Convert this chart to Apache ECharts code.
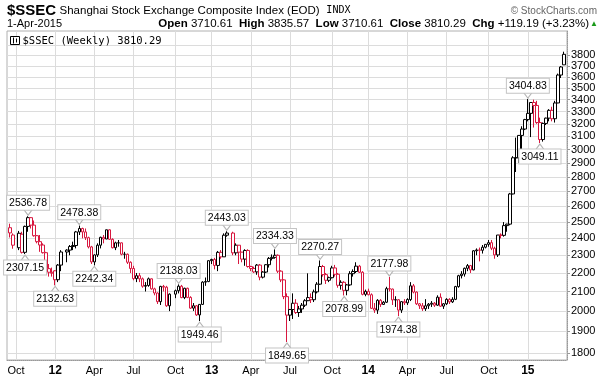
<!DOCTYPE html>
<html><head><meta charset="utf-8">
<script src="https://cdn.jsdelivr.net/npm/echarts@6/dist/echarts.min.js"></script>
<style>html,body{margin:0;padding:0;background:#fff}#c{width:603px;height:385px}</style>
</head><body><div id="c"></div>
<script>
// ---- data ----
const symbolName = '$SSEC';
const indexName = 'Shanghai Stock Exchange Composite Index (EOD)';
const exchange = 'INDX';
const lastDateText = '1-Apr-2015';
const firstWeek = '2011-09-19';           // Monday of first weekly bar
const weekCount = 185;                    // calendar weeks shown
// weekly OHLC (null = market closed whole week)
const opens = [2465,2420,null,2344,2425,2317,2473,2528,2481,2416,2380,2360,2315,2224,2204,2212,2163,2244,null,2319,
2330,2351,2357,2439,2460,2439,2404,2349,2262,2302,2359,2406,2396,2452,2394,2344,2373,2373,2306,2306,
2260,2225,2169,2185,2168,2128,2132,2168,2114,2092,2047,2127,2123,2026,null,2086,2104,2128,2068,2117,
2069,2014,2026,1980,2033,2150,2153,2269,2276,2242,2317,2291,2419,null,2432,2314,2359,2318,2278,2328,
2236,2225,2206,2244,2177,2205,2246,2282,2288,2300,2210,2162,2073,1979,2007,2039,1992,2010,2029,2052,
2068,2057,2098,2139,2236,2191,2160,2174,2228,2193,2133,2149,2106,2135,2196,2208,2238,2204,2085,2101,
2083,2013,2004,2054,2033,2044,2115,2113,2056,2057,2004,2047,2041,2058,2130,2097,2036,2026,2011,2026,
2034,2039,2029,2070,2024,2036,2059,2046,2059,2126,2185,2194,2226,2241,2217,2326,2331,2329,2347,2364,
2374,2341,2302,2420,2418,2478,2487,2683,2938,2938,3108,3158,3234,3285,3376,3351,3210,3076,3203,3246,
3310,3241,3372,3617,3710.61];
const highs = [2490,2430,null,2445,2440,2478,2536.78,2530,2510,2420,2420,2370,2320,2250,2230,2215,2250,2330,null,2335,
2360,2380,2445,2478.38,2465,2460,2410,2355,2305,2370,2410,2420,2453,2455,2400,2380,2390,2375,2320,2310,
2265,2240,2200,2200,2175,2150,2175,2170,2120,2095,2130,2135,2130,2090,null,2110,2138.03,2135,2120,2120,
2075,2040,2030,2035,2155,2175,2270,2280,2285,2325,2330,2430,2443.03,null,2440,2370,2360,2320,2335,2335,
2240,2235,2250,2250,2210,2250,2290,2305,2334.33,2305,2215,2165,2090,2010,2090,2060,2025,2040,2060,2198,
2090,2110,2150,2270.27,2245,2200,2180,2240,2245,2200,2160,2155,2140,2210,2220,2260,2245,2210,2110,2115,
2090,2040,2060,2060,2050,2125,2177.98,2115,2075,2060,2050,2060,2065,2150,2140,2100,2040,2040,2060,2040,
2050,2045,2080,2090,2040,2065,2065,2070,2130,2190,2210,2230,2250,2245,2330,2340,2345,2360,2365,2390,
2390,2350,2420,2430,2500,2490,2690,2950,3091,3110,3180,3240,3404.83,3380,3400,3390,3250,3210,3250,3320,
3340,3390,3630,3700,3835.57];
const lows = [2405,2338,null,2330,2310,2307.15,2440,2460,2410,2370,2320,2310,2220,2180,2180,2132.63,2150,2210,null,2260,
2300,2330,2340,2420,2400,2390,2340,2250,2242.34,2290,2340,2370,2395,2390,2340,2330,2350,2300,2280,2250,
2200,2160,2150,2150,2120,2100,2125,2110,2080,2035,2030,2100,2020,1999,null,2065,2090,2065,2060,2065,
2010,2000,1975,1949.46,2030,2130,2150,2250,2220,2210,2280,2290,2410,null,2300,2300,2250,2260,2240,2230,
2210,2200,2190,2160,2170,2200,2230,2270,2280,2200,2150,2060,1849.65,1950,1960,1985,1970,1990,2020,2050,
2040,2045,2090,2135,2180,2140,2150,2170,2180,2120,2110,2078.99,2080,2130,2180,2200,2200,2080,2075,2080,
2010,1990,1985,2020,2030,2040,2100,2030,2020,1974.38,1990,2030,2030,2050,2090,2030,2010,2000,2000,2010,
2020,2020,2025,2020,2010,2030,2035,2040,2055,2120,2170,2180,2210,2200,2215,2300,2265,2310,2340,2350,
2330,2280,2290,2400,2410,2440,2480,2680,2835,2900,2940,3150,3220,3095,3170,3200,3049.11,3060,3190,3220,
3220,3210,3370,3590,3710.61];
const closes = [2433,2359,null,2431,2317,2473,2528,2481,2416,2380,2360,2315,2224,2204,2199,2163,2244,2319,null,2330,
2351,2357,2439,2460,2439,2404,2349,2262,2302,2359,2406,2396,2452,2394,2344,2373,2373,2306,2306,2260,
2225,2169,2185,2168,2128,2132,2168,2114,2092,2047,2127,2123,2026,2086,null,2104,2128,2068,2117,2069,
2014,2026,1980,2033,2150,2153,2269,2276,2242,2317,2291,2419,2432,null,2314,2359,2318,2278,2328,2236,
2225,2206,2244,2177,2205,2246,2282,2288,2300,2210,2162,2073,1979,2007,2039,1992,2010,2029,2052,2068,
2057,2098,2139,2236,2191,2160,2174,2228,2193,2133,2149,2106,2135,2196,2208,2238,2204,2085,2101,2083,
2013,2004,2054,2033,2044,2115,2113,2056,2057,2004,2047,2041,2058,2130,2097,2036,2026,2011,2026,2034,
2039,2029,2070,2024,2036,2059,2046,2059,2126,2185,2194,2226,2241,2217,2326,2331,2329,2347,2364,2374,
2341,2302,2420,2418,2478,2487,2683,2938,2938,3108,3158,3234,3285,3376,3351,3210,3076,3203,3246,3310,
3241,3372,3617,3691.10,3810.29];
// x-axis tick labels: [week (Monday), label, isYear]
const tickLabels = [['2011-10-03','Oct',0],['2012-01-02','12',1],['2012-04-02','Apr',0],['2012-07-02','Jul',0],
['2012-10-08','Oct',0],['2012-12-31','13',1],['2013-04-01','Apr',0],['2013-07-01','Jul',0],['2013-10-07','Oct',0],
['2013-12-30','14',1],['2014-03-31','Apr',0],['2014-06-30','Jul',0],['2014-10-06','Oct',0],['2015-01-05','15',1]];
const yTicks = [1800,1900,2000,2100,2200,2300,2400,2500,2600,2700,2800,2900,3000,3100,3200,3300,3400,3500,3600,3700,3800,3900];
// annotated highs / lows: [week, value, side]
const callouts = [['2011-10-31',2536.78,'top'],['2011-10-24',2307.15,'bottom'],['2012-01-02',2132.63,'bottom'],
['2012-02-27',2478.38,'top'],['2012-04-02',2242.34,'bottom'],['2012-10-15',2138.03,'top'],['2012-12-03',1949.46,'bottom'],
['2013-02-04',2443.03,'top'],['2013-05-27',2334.33,'top'],['2013-06-24',1849.65,'bottom'],['2013-09-09',2270.27,'top'],
['2013-11-04',2078.99,'bottom'],['2014-02-17',2177.98,'top'],['2014-03-10',1974.38,'bottom'],
['2015-01-05',3404.83,'top'],['2015-02-02',3049.11,'bottom']];

// ---- build ----
const RED = '#d8173f', BLK = '#000';
const FONT = 'Liberation Sans, Arial, sans-serif';
function fmt(d){return d.toISOString().slice(0,10);}
const weeks = [];
{ const d0 = new Date(firstWeek+'T00:00:00Z');
  for (let i=0;i<weekCount;i++){ weeks.push(fmt(new Date(d0.getTime()+i*7*86400000))); } }
const cats = [' '].concat(weeks).concat(['  ']);
const candle = [{value:['-','-','-','-']}];
let prev = null;
for (let i=0;i<weekCount;i++){
  if (closes[i]==null){ candle.push({value:['-','-','-','-']}); continue; }
  const o=opens[i], c=closes[i];
  const col = (prev==null ? c>=o : c>=prev) ? BLK : RED;
  candle.push({value:[o,c,lows[i],highs[i]],
    itemStyle:{color:'#fff', color0:col, borderColor:col, borderColor0:col}});
  prev = c;
}
candle.push({value:['-','-','-','-']});
const tickMap = {}; tickLabels.forEach(t=>tickMap[t[0]]=t);
const showTick = (idx, val) => !!tickMap[val];

const n = closes.length-1;
const chg = closes[n]-closes[n-1];
const chgPct = chg/closes[n-1]*100;

const mp = callouts.map(c=>{
  const top = c[2]==='top';
  return {coord:[c[0], c[1]], value:c[1],
    symbol: top ? 'path://M0,0L10,0L5,7Z' : 'path://M5,0L10,7L0,7Z',
    symbolSize:[9,6], symbolOffset:[0, top?-4:4],
    itemStyle:{color:'#fff', borderColor:'#b4b4b4', borderWidth:1},
    label:{show:true, position: top?'top':'bottom', distance:-1,
      formatter: p=>p.value.toFixed(2), backgroundColor:'#fff', borderColor:'#c4c4c4', borderWidth:1,
      padding:[2,2,1,2], color:'#000', fontSize:10.5, fontFamily:FONT}};
});

const chart = echarts.init(document.getElementById('c'), null, {renderer:'canvas'});
chart.setOption({
  animation:false,
  backgroundColor:'#fff',
  grid:{left:7, right:36, top:31, bottom:25, show:true, borderColor:'#b0b0b0', borderWidth:1},
  xAxis:{type:'category', data:cats, boundaryGap:false,
    axisLine:{show:true, lineStyle:{color:'#999', type:'dotted'}},
    axisTick:{show:false},
    axisLabel:{interval:showTick, margin:5, color:'#000', fontSize:11, fontFamily:FONT,
      formatter:(v)=>{const t=tickMap[v]; if(!t) return ''; return t[2]?'{y|'+t[1]+'}':t[1];},
      rich:{y:{fontWeight:'bold', fontSize:12, fontFamily:FONT, color:'#000'}}},
    splitLine:{show:true, interval:showTick, lineStyle:{color:'#dcdcdc', width:1}}
  },
  yAxis:{type:'log', logBase:10, position:'right', min:1768, max:4040, scale:true,
    axisLine:{show:true, lineStyle:{color:'#999', type:'dotted'}},
    axisTick:{show:true, length:3, customValues:yTicks, lineStyle:{color:'#999'}},
    axisLabel:{customValues:yTicks, margin:4, color:'#000', fontSize:11, fontFamily:FONT,
      formatter:(v)=>String(Math.round(v))},
    splitLine:{show:true, lineStyle:{color:'#dcdcdc', width:1}},
    minorTick:{show:false}, minorSplitLine:{show:false}
  },
  series:[{type:'candlestick', name:symbolName, data:candle, barWidth:3,
    itemStyle:{borderWidth:1},
    markPoint:{data:mp, animation:false}
  }],
  graphic:[
    {type:'text', z:100, left:7, top:3, style:{text:'{b|'+symbolName+'} {n|'+indexName+'}  {m|'+exchange+'}',
      rich:{b:{fontWeight:'bold', fontSize:15, fontFamily:FONT, fill:'#000'},
            n:{fontSize:11.5, fontFamily:FONT, fill:'#000'},
            m:{fontSize:10, fontFamily:'DejaVu Sans Mono, monospace', fill:'#000'}}}},
    {type:'text', z:100, right:6, top:6, style:{text:'© StockCharts.com', fontSize:10, fontFamily:FONT, fill:'#666'}},
    {type:'text', z:100, left:7, top:18, style:{text:lastDateText, fontSize:11, fontFamily:FONT, fill:'#000'}},
    {type:'text', z:100, right:14, top:18, style:{
      text:'{b|Open} '+opens[n].toFixed(2)+'  {b|High} '+highs[n].toFixed(2)+'  {b|Low} '+lows[n].toFixed(2)+
           '  {b|Close} '+closes[n].toFixed(2)+'  {b|Chg} '+(chg>=0?'+':'')+chg.toFixed(2)+' ('+(chg>=0?'+':'')+chgPct.toFixed(2)+'%)',
      fontSize:11.5, fontFamily:FONT, fill:'#000',
      rich:{b:{fontWeight:'bold', fontSize:11.5, fontFamily:FONT, fill:'#000'}}}},
    {type:'text', z:100, right:5, top:20, style:{text:'▲', fontSize:8, fill:'#1a9a1a'}},
    {type:'group', z:100, left:10, top:35, children:[
      {type:'rect', z:100, shape:{x:0,y:1,width:9,height:8}, style:{fill:'#fff', stroke:'#000', lineWidth:1}},
      {type:'line', z:100, shape:{x1:3,y1:2,x2:3,y2:8}, style:{stroke:'#000'}},
      {type:'line', z:100, shape:{x1:6,y1:3,x2:6,y2:7}, style:{stroke:'#000'}},
      {type:'text', z:100, x:12, y:0, style:{text:symbolName+' (Weekly) '+closes[n].toFixed(2), fontSize:10.5, fontFamily:'DejaVu Sans Mono, monospace', fill:'#000'}}
    ]}
  ]
});
</script></body></html>
